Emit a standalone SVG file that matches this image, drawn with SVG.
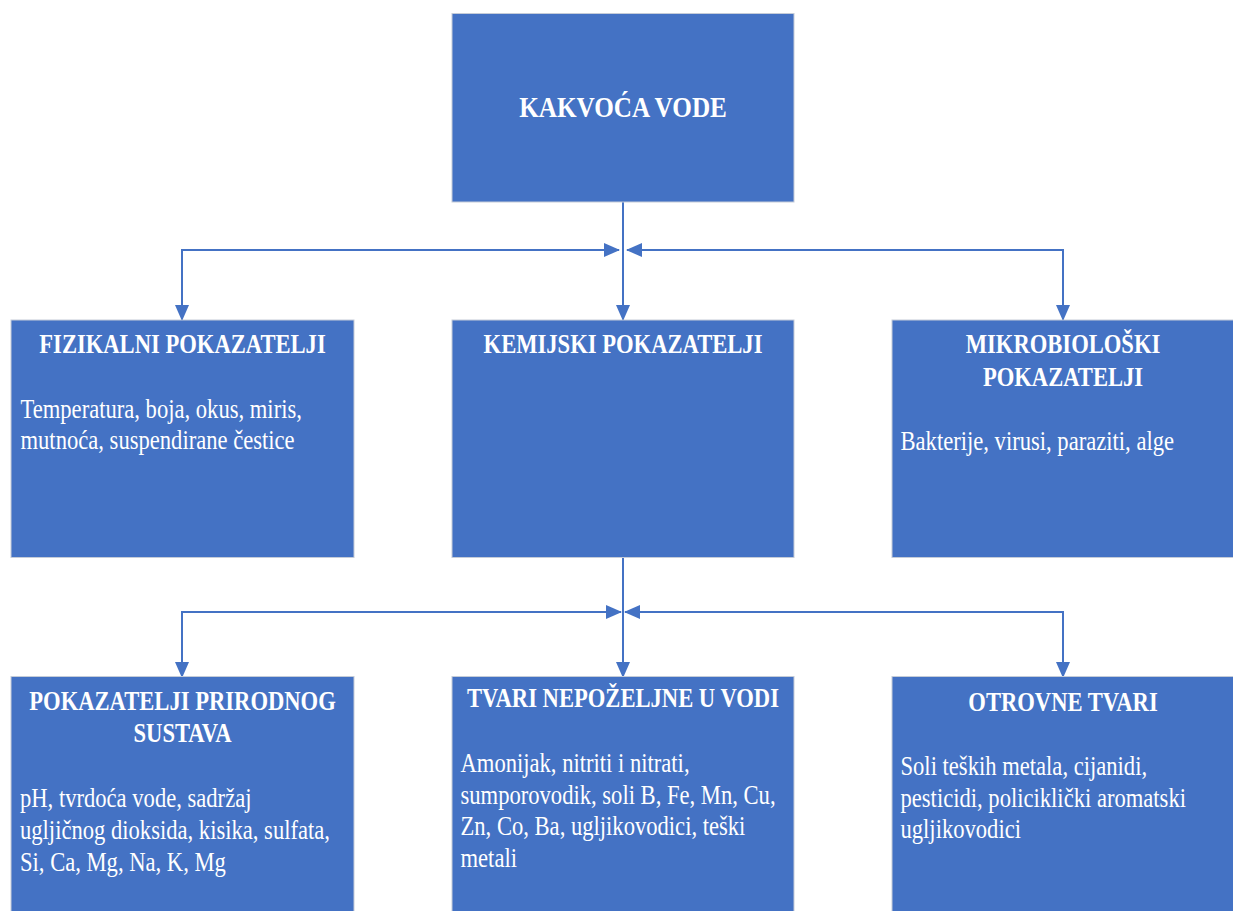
<svg xmlns="http://www.w3.org/2000/svg" width="1233" height="911" viewBox="0 0 1233 911">
<style>
.box{fill:#4472C4;stroke:#C5CCD8;stroke-width:1}
.t{font-family:"Liberation Serif","Times New Roman",serif;fill:#FFFFFF;font-size:22.6px}
.h{font-weight:bold;text-anchor:middle}
.conn{fill:none;stroke:#4472C4;stroke-width:2}
</style>
<defs>
<marker id="arr" viewBox="0 0 16 14" refX="15" refY="7" markerWidth="16" markerHeight="14" markerUnits="userSpaceOnUse" orient="auto-start-reverse">
<path d="M0,0 L16,7 L0,14 Z" fill="#4472C4"/>
</marker>
</defs>
<rect width="1233" height="911" fill="#FFFFFF"/>
<g id="connectors">
<path class="conn" d="M623,202 V320" marker-end="url(#arr)"/>
<path class="conn" d="M619,250 H182 V320" marker-start="url(#arr)" marker-end="url(#arr)"/>
<path class="conn" d="M627,250 H1063 V320" marker-start="url(#arr)" marker-end="url(#arr)"/>
<path class="conn" d="M623,558 V677" marker-end="url(#arr)"/>
<path class="conn" d="M621,612 H182 V677" marker-start="url(#arr)" marker-end="url(#arr)"/>
<path class="conn" d="M625,612 H1063 V677" marker-start="url(#arr)" marker-end="url(#arr)"/>
</g>
<g id="kakvoca">
<rect class="box" x="452" y="13.5" width="342" height="188.5"/>
<text class="t h" style="font-size:25.2px" transform="translate(623,116.5) scale(1,1.15)">KAKVOĆA VODE</text>
</g>
<g id="fizikalni">
<rect class="box" x="11" y="320" width="343" height="237.5"/>
<text class="t h" transform="translate(182.5,353) scale(1,1.2)">FIZIKALNI POKAZATELJI</text>
<text class="t" transform="translate(20.5,418) scale(1,1.2)"><tspan x="0" y="0">Temperatura, boja, okus, miris,</tspan><tspan x="0" dy="25.9">mutnoća, suspendirane čestice</tspan></text>
</g>
<g id="kemijski">
<rect class="box" x="452" y="320" width="342" height="237.5"/>
<text class="t h" transform="translate(623,353) scale(1,1.2)">KEMIJSKI POKAZATELJI</text>
</g>
<g id="mikrobioloski">
<rect class="box" x="892" y="320" width="345" height="237.5"/>
<text class="t h" transform="translate(1063,353) scale(1,1.2)"><tspan x="0" y="0">MIKROBIOLOŠKI</tspan><tspan x="0" dy="27.5">POKAZATELJI</tspan></text>
<text class="t" transform="translate(900.5,450) scale(1,1.2)">Bakterije, virusi, paraziti, alge</text>
</g>
<g id="prirodni">
<rect class="box" x="11" y="676.5" width="343" height="240"/>
<text class="t h" transform="translate(182.5,710) scale(1,1.2)"><tspan x="0" y="0">POKAZATELJI PRIRODNOG</tspan><tspan x="0" dy="26.4">SUSTAVA</tspan></text>
<text class="t" transform="translate(20,807) scale(1,1.2)"><tspan x="0" y="0">pH, tvrdoća vode, sadržaj</tspan><tspan x="0" dy="26.5">ugljičnog dioksida, kisika, sulfata,</tspan><tspan x="0" dy="26.5">Si, Ca, Mg, Na, K, Mg</tspan></text>
</g>
<g id="nepozeljne">
<rect class="box" x="452" y="676.5" width="342" height="240"/>
<text class="t h" transform="translate(623,707) scale(1,1.2)">TVARI NEPOŽELJNE U VODI</text>
<text class="t" transform="translate(460.5,772) scale(1,1.2)"><tspan x="0" y="0">Amonijak, nitriti i nitrati,</tspan><tspan x="0" dy="26.4">sumporovodik, soli B, Fe, Mn, Cu,</tspan><tspan x="0" dy="26.4">Zn, Co, Ba, ugljikovodici, teški</tspan><tspan x="0" dy="26.4">metali</tspan></text>
</g>
<g id="otrovne">
<rect class="box" x="892" y="676.5" width="345" height="240"/>
<text class="t h" transform="translate(1063,711) scale(1,1.2)">OTROVNE TVARI</text>
<text class="t" transform="translate(900.5,775) scale(1,1.2)"><tspan x="0" y="0">Soli teških metala, cijanidi,</tspan><tspan x="0" dy="26.4">pesticidi, policiklički aromatski</tspan><tspan x="0" dy="26.4">ugljikovodici</tspan></text>
</g>
</svg>
